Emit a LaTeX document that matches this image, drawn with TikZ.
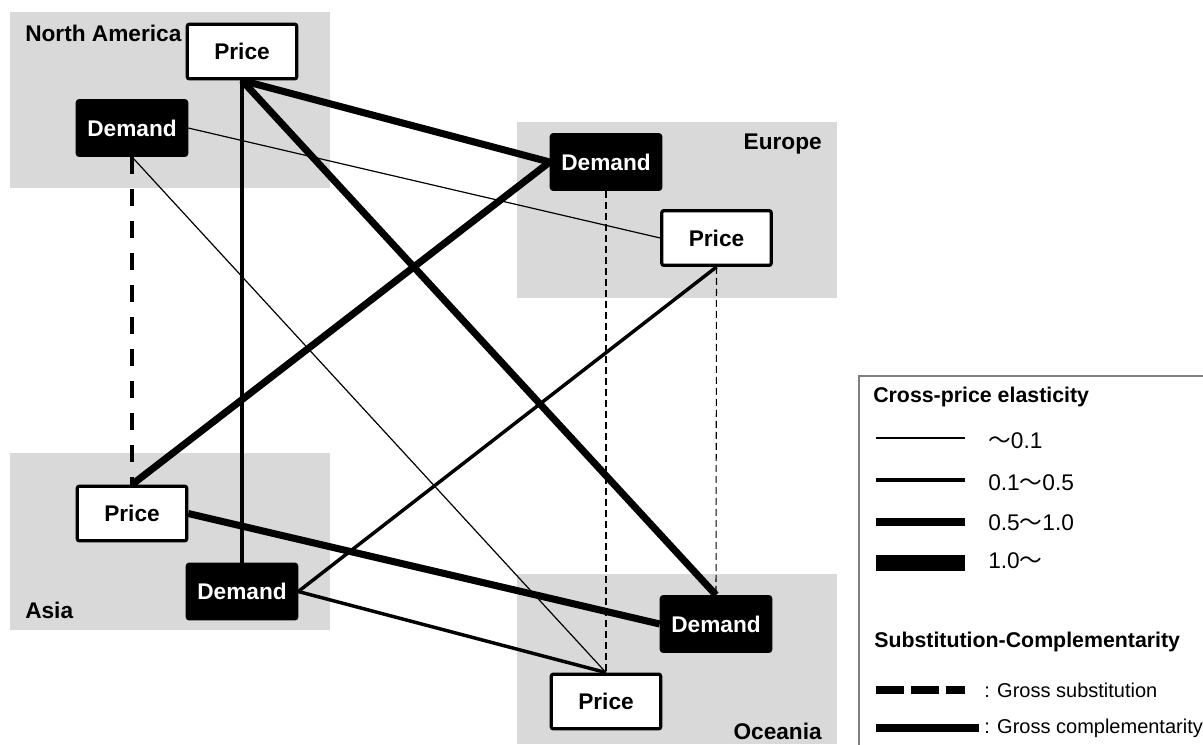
\documentclass[tikz,border=0pt]{standalone}
\usepackage{fontspec}
\setmainfont{Liberation Sans}
\newfontfamily\cjk{Noto Sans CJK JP}
\definecolor{regiongray}{HTML}{D9D9D9}
\definecolor{legendborder}{HTML}{808080}
\pgfdeclarelayer{regions}
\pgfdeclarelayer{links}
\pgfsetlayers{regions,links,main}
\newcommand{\wv}{{\cjk ～}}
\begin{document}
\begin{tikzpicture}[x=0.75pt,y=-0.75pt,
  region/.style={fill=regiongray,draw=none},
  regionlabel/.style={font=\fontsize{17}{20}\selectfont\bfseries,inner sep=0pt},
  pricebox/.style={draw=black,fill=white,line width=2.4pt,rounded corners=1.5pt,
    minimum width=82pt,minimum height=41pt,inner sep=0pt,
    font=\fontsize{17}{20}\selectfont\bfseries},
  demandbox/.style={pricebox,fill=black,text=white},
  lowlink/.style={line width=0.9pt},
  midlink/.style={line width=2.6pt},
  highlink/.style={line width=5.3pt},
  toplink/.style={line width=12pt},
  sublink/.style={line width=3.4pt,dash pattern=on 12.75pt off 11.25pt},
  thindash/.style={line width=0.8pt,dash pattern=on 5.25pt off 3pt},
  legendhead/.style={font=\fontsize{16}{19}\selectfont\bfseries,anchor=west,inner sep=0pt},
  legendtext/.style={font=\fontsize{15}{18}\selectfont,anchor=west,inner sep=0pt},
  legendnum/.style={font=\fontsize{17}{20}\selectfont,anchor=base west,inner sep=0pt},
]
\useasboundingbox (0,0) rectangle (1203,744);
\clip (0,0) rectangle (1203,744);

% regions
\begin{pgfonlayer}{regions}
\fill[region] (10,12) rectangle (330,188);
\fill[region] (517,122) rectangle (837,298);
\fill[region] (10,453) rectangle (330,630);
\fill[region] (517,574) rectangle (837,744);
\end{pgfonlayer}

\node[regionlabel,anchor=west] (lna) at (25,33) {North America};
\node[regionlabel,anchor=east] (leu) at (822,144) {Europe};
\node[regionlabel,anchor=west] (las) at (25,610) {Asia};
\node[regionlabel,anchor=east] (loc) at (822,731) {Oceania};

% nodes
\node[pricebox]  (naP) at (242,51.5) {Price};
\node[demandbox] (naD) at (132,128) {Demand};
\node[demandbox] (euD) at (606,162) {Demand};
\node[pricebox]  (euP) at (716.5,238) {Price};
\node[pricebox]  (asP) at (132,513.5) {Price};
\node[demandbox] (asD) at (242,591.5) {Demand};
\node[demandbox] (ocD) at (716,624) {Demand};
\node[pricebox]  (ocP) at (606,701.5) {Price};

% links
\begin{pgfonlayer}{links}
\draw[midlink]  (naP.south) -- (asD.north);
\draw[highlink] (naP.south) -- (euD.west);
\draw[highlink] (naP.south) -- (ocD.north);
\draw[highlink] (euD.west) -- (asP.north);
\draw[highlink] (asP.east) -- (ocD.west);
\draw[midlink]  (euP.south) -- (asD.east);
\draw[midlink]  (asD.east) -- (ocP.north);
\draw[sublink]  (naD.south) -- (asP.north);
\draw[lowlink]  (naD.east) -- (euP.west);
\draw[lowlink]  (naD.south) -- (ocP.north);
\draw[thindash] (euD.south) -- (ocP.north);
\draw[thindash] (euP.south) -- (ocD.north);
\end{pgfonlayer}

% legend
\draw[legendborder,line width=0.8pt] (859,376) rectangle (1230,770);
\node[legendhead] (lh1) at (873,397) {Cross-price elasticity};
\draw[lowlink]  (876,438) -- (965,438);
\draw[midlink]  (876,480) -- (965,480);
\draw[highlink] (876,522) -- (965,522);
\draw[toplink]  (876,563) -- (965,563);
\node[legendnum] (lt1) at (988,448) {\wv 0.1};
\node[legendnum] (lt2) at (988,490) {0.1\wv 0.5};
\node[legendnum] (lt3) at (988,530) {0.5\wv 1.0};
\node[legendnum] (lt4) at (988,568) {1.0\wv};
\node[legendhead] (lh2) at (874,642) {Substitution-Complementarity};
\draw[line width=5.5pt,dash pattern=on 21pt off 5.25pt] (876,690) -- (965,690);
\draw[line width=5.5pt] (876,728) -- (979,728);
\node[legendtext] (lt5) at (984,690) {: Gross substitution};
\node[legendtext] (lt6) at (984,728) {: Gross complementarity};
\end{tikzpicture}
\end{document}
